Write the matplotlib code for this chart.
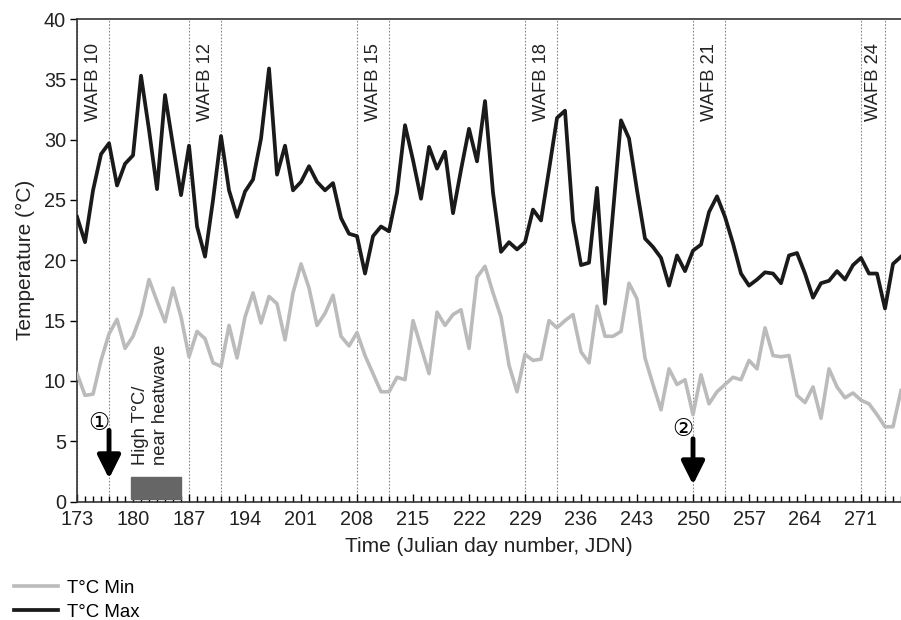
import numpy as np
import matplotlib
matplotlib.use('Agg')
import matplotlib.pyplot as plt
from matplotlib.patches import Rectangle
from matplotlib.lines import Line2D

plt.rcParams['font.family'] = ['Liberation Sans', 'DejaVu Sans', 'Noto Sans CJK JP']

# Julian day numbers
days = list(range(173, 277))

# Daily maximum temperature (°C)
t_max = [23.6, 21.5, 25.8, 28.8, 29.7, 26.2, 28.0, 28.7, 35.3, 30.8,
         25.9, 33.7, 29.5, 25.4, 29.5, 22.8, 20.3, 25.0, 30.3, 25.8,
         23.6, 25.7, 26.7, 30.1, 35.9, 27.1, 29.5, 25.8, 26.5, 27.8,
         26.5, 25.8, 26.4, 23.5, 22.2, 22.0, 18.9, 22.0, 22.8, 22.4,
         25.6, 31.2, 28.3, 25.1, 29.4, 27.6, 29.0, 23.9, 27.5, 30.9,
         28.2, 33.2, 25.6, 20.7, 21.5, 20.9, 21.5, 24.2, 23.3, 27.5,
         31.8, 32.4, 23.3, 19.6, 19.8, 26.0, 16.4, 24.0, 31.6, 30.1,
         25.8, 21.8, 21.1, 20.2, 17.9, 20.4, 19.1, 20.8, 21.3, 24.0,
         25.3, 23.6, 21.4, 18.9, 17.9, 18.4, 19.0, 18.9, 18.1, 20.4,
         20.6, 18.9, 16.9, 18.1, 18.3, 19.1, 18.4, 19.6, 20.2, 18.9,
         18.9, 16.0, 19.7, 20.3]

# Daily minimum temperature (°C)
t_min = [10.6, 8.8, 8.9, 11.7, 13.9, 15.1, 12.7, 13.7, 15.5, 18.4,
         16.6, 14.9, 17.7, 15.3, 12.0, 14.1, 13.5, 11.5, 11.2, 14.6,
         11.9, 15.3, 17.3, 14.8, 17.0, 16.4, 13.4, 17.3, 19.7, 17.7,
         14.6, 15.6, 17.1, 13.7, 12.9, 14.0, 12.1, 10.6, 9.1, 9.1,
         10.3, 10.1, 15.0, 12.8, 10.6, 15.7, 14.6, 15.5, 15.9, 12.7,
         18.6, 19.5, 17.3, 15.3, 11.3, 9.1, 12.2, 11.7, 11.8, 15.0,
         14.4, 15.0, 15.5, 12.4, 11.5, 16.2, 13.7, 13.7, 14.1, 18.1,
         16.8, 11.9, 9.7, 7.6, 11.0, 9.7, 10.1, 7.2, 10.5, 8.1,
         9.1, 9.7, 10.3, 10.1, 11.7, 11.0, 14.4, 12.1, 12.0, 12.1,
         8.8, 8.2, 9.5, 6.9, 11.0, 9.5, 8.6, 9.0, 8.4, 8.1,
         7.2, 6.2, 6.2, 9.2]

# Field campaign (WAFB) periods and labels
wafb_lines = [173, 177, 187, 191, 208, 212, 229, 233, 250, 254, 271, 274]
wafb_labels = ['WAFB 10', 'WAFB 12', 'WAFB 15', 'WAFB 18', 'WAFB 21', 'WAFB 24']
wafb_label_x = [175, 189, 210, 231, 252, 272.5]

fig = plt.figure(figsize=(9.01, 6.2), dpi=100)
ax = fig.add_axes([0.0855, 0.1911, 0.9145, 0.7782])

# Dotted campaign markers
for d in wafb_lines:
    ax.axvline(d, color='#888888', lw=0.8, linestyle=(0, (1.5, 1.5)), zorder=1)
for lab, x in zip(wafb_labels, wafb_label_x):
    ax.text(x, 38.0, lab, rotation=90, ha='center', va='top', fontsize=13.2, color='#222222')

# Temperature lines
ax.plot(days, t_min, color='#bbbbbb', lw=2.6, label='T°C Min', zorder=3)
ax.plot(days, t_max, color='#1a1a1a', lw=2.7, label='T°C Max', zorder=3)

# Heatwave box and text
ax.add_patch(Rectangle((179.7, 0.25), 6.3, 1.75, color='#666666', zorder=2))
ax.text(182.2, 3.0, 'High T°C/\nnear heatwave', rotation=90, ha='center', va='bottom',
        multialignment='left', fontsize=13.2, linespacing=1.2, color='#222222')

# Event arrows
arrow = dict(arrowstyle='-|>,head_width=0.7,head_length=1.4', lw=3.5, color='black',
             shrinkA=0, shrinkB=0)
ax.annotate('', xy=(177, 1.9), xytext=(177, 5.9), arrowprops=arrow, zorder=4)
ax.annotate('', xy=(250, 1.4), xytext=(250, 5.2), arrowprops=arrow, zorder=4)
ax.text(175.75, 6.5, '①', ha='center', va='center', fontsize=17,
        family=['DejaVu Sans', 'Noto Sans CJK JP'])
ax.text(248.75, 6.0, '②', ha='center', va='center', fontsize=17,
        family=['DejaVu Sans', 'Noto Sans CJK JP'])

# Axes styling
ax.set_xlim(173, 276)
ax.set_ylim(0, 40)
ax.set_xticks(np.arange(173, 276, 7))
ax.set_xticks(np.arange(173, 277, 1), minor=True)
ax.set_yticks(np.arange(0, 41, 5))
ax.tick_params(axis='x', which='major', direction='in', length=6, width=1, labelsize=14.3,
               labelcolor='#222222', pad=6)
ax.tick_params(axis='x', which='minor', direction='in', length=4, width=1)
ax.tick_params(axis='y', direction='out', length=5, width=1, labelsize=14.3,
               labelcolor='#222222', pad=3)
ax.spines['right'].set_visible(False)
for s in ['left', 'bottom', 'top']:
    ax.spines[s].set_linewidth(1.2)
    ax.spines[s].set_color('#333333')

ax.set_xlabel('Time (Julian day number, JDN)', fontsize=15, color='#222222', labelpad=6)
ax.set_ylabel('Temperature (°C)', fontsize=15, color='#222222', labelpad=6)

# Legend below the plot
handles = [Line2D([], [], color='#bbbbbb', lw=2.6), Line2D([], [], color='#1a1a1a', lw=2.7)]
fig.legend(handles, ['T°C Min', 'T°C Max'], loc='center left', bbox_to_anchor=(0.015, 0.032),
           frameon=False, fontsize=13.4, handlelength=2.4, handletextpad=0.45,
           labelspacing=0.38, borderpad=0, borderaxespad=0)

plt.savefig('out.png', dpi=100)
plt.close()
